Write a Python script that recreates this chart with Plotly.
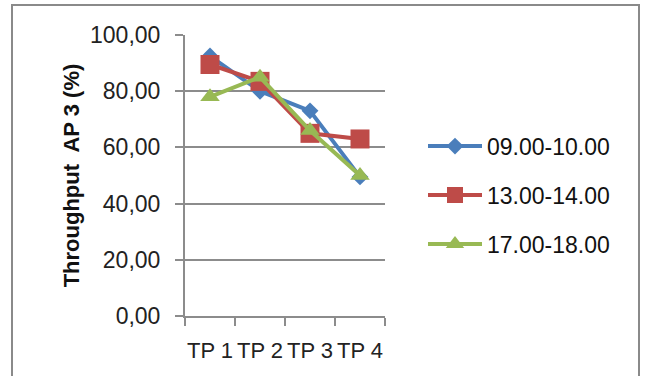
import plotly.graph_objects as go

categories = ["TP 1", "TP 2", "TP 3", "TP 4"]
series_names = ["09.00-10.00", "13.00-14.00", "17.00-18.00"]
throughput_0910 = [92.5, 80.0, 73.0, 49.5]
throughput_1314 = [89.5, 83.5, 65.0, 63.0]
throughput_1718 = [78.0, 85.0, 66.0, 50.0]
y_ticks = [0, 20, 40, 60, 80, 100]

colors = ["#4A7EBB", "#BE4B48", "#98B954"]
symbols = ["diamond", "square", "triangle-up"]
marker_sizes = [13, 19, 17]
values = [throughput_0910, throughput_1314, throughput_1718]

fig = go.Figure()
for i, (name, vals) in enumerate(zip(series_names, values)):
    fig.add_trace(go.Scatter(
        x=categories, y=vals, name=name, mode="lines+markers",
        line=dict(color=colors[i], width=4),
        marker=dict(symbol=symbols[i], size=marker_sizes[i], color=colors[i],
                    line=dict(width=0)),
        legendgroup=name,
    ))

grid = "#8C8C8C"
font_family = "Liberation Sans, Arial, sans-serif"

fig.update_layout(
    width=645, height=376,
    margin=dict(l=185, r=260, t=35, b=60),
    paper_bgcolor="white", plot_bgcolor="white",
    separators=",.",
    font=dict(family=font_family, color="#222222"),
    showlegend=True,
    legend=dict(
        x=1.19, y=0.43, xanchor="left", yanchor="middle",
        font=dict(size=23, family=font_family, color="#111111"),
        tracegroupgap=16, itemwidth=54, bgcolor="rgba(0,0,0,0)",
    ),
    xaxis=dict(
        type="category", range=[-0.5, 3.5], tickson="boundaries",
        showline=True, linecolor=grid, linewidth=2,
        ticks="outside", ticklen=8, tickwidth=2, tickcolor=grid,
        showgrid=False, zeroline=False, automargin=False, tickangle=0,
        tickfont=dict(size=22, family=font_family, color="#222222"),
        ticklabelstandoff=14,
    ),
    yaxis=dict(
        range=[0, 100], tickvals=y_ticks, tickformat=".2f",
        showline=True, linecolor=grid, linewidth=2,
        ticks="outside", ticklen=8, tickwidth=2, tickcolor=grid,
        showgrid=True, gridcolor=grid, gridwidth=2, zeroline=False,
        automargin=False,
        tickfont=dict(size=23, family=font_family, color="#222222"),
        ticklabelstandoff=10,
        title=dict(text="<b>Throughput  AP 3 (%)</b>", standoff=4,
                   font=dict(size=22, family=font_family, color="#111111")),
    ),
)

# chart frame
fig.add_shape(type="rect", xref="paper", yref="paper",
              x0=(12 - 185) / 200, x1=(639 - 185) / 200,
              y0=-0.4, y1=(316 - 5) / 281,
              line=dict(color="#8A8A8A", width=2), fillcolor="rgba(0,0,0,0)",
              layer="below")

fig.write_html("out.html")
